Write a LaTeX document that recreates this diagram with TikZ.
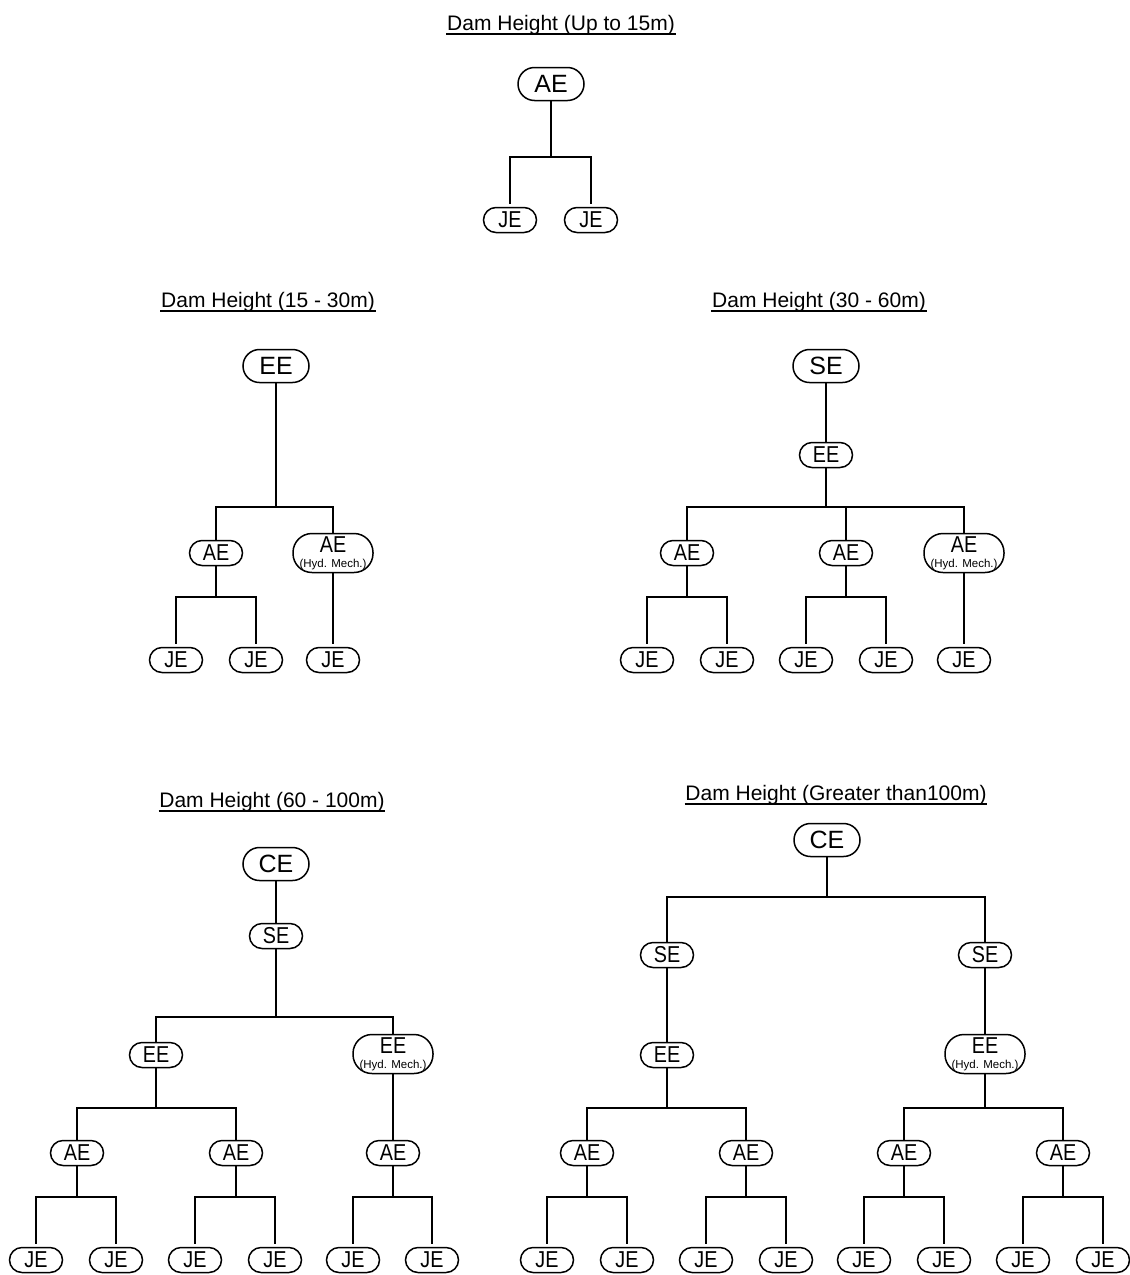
\documentclass[tikz,border=0pt]{standalone}
\usepackage{fontspec}
\setmainfont{Liberation Sans}
\newfontfamily\narrowfont[FakeStretch=0.86]{Liberation Sans}
\begin{document}
\begin{tikzpicture}[x=1pt,y=-1pt,
  every path/.style={line width=1.5pt},
  bignode/.style={draw, line width=1.5pt, rounded corners=16.5pt, minimum width=66pt, minimum height=33pt, inner sep=0pt, font=\fontsize{25}{25}\selectfont},
  smallnode/.style={draw, line width=1.5pt, rounded corners=12.5pt, minimum width=53pt, minimum height=25pt, inner sep=0pt, font=\narrowfont\fontsize{23}{23}\selectfont},
  hydnode/.style={draw, line width=1.5pt, rounded corners=19pt, minimum width=80pt, minimum height=39pt, inner sep=0pt, align=center, font=\narrowfont\fontsize{23}{15}\selectfont},
  titlenode/.style={anchor=base, inner sep=0pt, font=\fontsize{21}{21}\selectfont},
  link/.style={line width=1.5pt},
  leaflink/.style={line width=1.5pt, shorten >=3pt}]
\useasboundingbox (0,0) rectangle (1130,1275);
\newcommand\tbranch[4][link]{\draw[#1] (#2.south) -- (#2.south |- 0,#3) -| (#4.north);}
\newcommand\ttitle[4]{\node[titlenode] (#1) at (#2,#3) {#4};
  \draw[line width=1.3pt] ([yshift=-4pt]#1.base west) -- ([yshift=-4pt]#1.base east);}
\newcommand\hydtext[1]{#1\\{\rmfamily\fontsize{11.5}{15}\selectfont (Hyd. Mech.)}}

% ---------- Tree 1 ----------
\ttitle{ta}{561}{30}{Dam Height (Up to 15m)}
\node[bignode] (a0) at (551,84) {AE};
\node[smallnode] (a1) at (510,220) {JE};
\node[smallnode] (a2) at (591,220) {JE};
\tbranch[leaflink]{a0}{157}{a1}
\tbranch[leaflink]{a0}{157}{a2}

% ---------- Tree 2 ----------
\ttitle{tb}{268}{307}{Dam Height (15 - 30m)}
\node[bignode] (b0) at (276,366) {EE};
\node[smallnode] (b1) at (216,553) {AE};
\node[hydnode] (b2) at (333,553) {\hydtext{AE}};
\node[smallnode] (b11) at (176,660) {JE};
\node[smallnode] (b12) at (256,660) {JE};
\node[smallnode] (b21) at (333,660) {JE};
\tbranch{b0}{507}{b1}
\tbranch{b0}{507}{b2}
\tbranch[leaflink]{b1}{597}{b11}
\tbranch[leaflink]{b1}{597}{b12}
\draw[leaflink] (b2.south) -- (b21.north);

% ---------- Tree 3 ----------
\ttitle{tc}{819}{307}{Dam Height (30 - 60m)}
\node[bignode] (c0) at (826,366) {SE};
\node[smallnode] (c1) at (826,455) {EE};
\node[smallnode] (c11) at (687,553) {AE};
\node[smallnode] (c12) at (846,553) {AE};
\node[hydnode] (c13) at (964,553) {\hydtext{AE}};
\node[smallnode] (c111) at (647,660) {JE};
\node[smallnode] (c112) at (727,660) {JE};
\node[smallnode] (c121) at (806,660) {JE};
\node[smallnode] (c122) at (886,660) {JE};
\node[smallnode] (c131) at (964,660) {JE};
\draw[link] (c0.south) -- (c1.north);
\tbranch{c1}{507}{c11}
\tbranch{c1}{507}{c12}
\tbranch{c1}{507}{c13}
\tbranch[leaflink]{c11}{597}{c111}
\tbranch[leaflink]{c11}{597}{c112}
\tbranch[leaflink]{c12}{597}{c121}
\tbranch[leaflink]{c12}{597}{c122}
\draw[leaflink] (c13.south) -- (c131.north);

% ---------- Tree 4 ----------
\ttitle{td}{272}{807}{Dam Height (60 - 100m)}
\node[bignode] (d0) at (276,864) {CE};
\node[smallnode] (d1) at (276,936) {SE};
\node[smallnode] (d11) at (156,1055) {EE};
\node[hydnode] (d12) at (393,1054) {\hydtext{EE}};
\node[smallnode] (d111) at (77,1153) {AE};
\node[smallnode] (d112) at (236,1153) {AE};
\node[smallnode] (d121) at (393,1153) {AE};
\node[smallnode] (j1) at (36,1260) {JE};
\node[smallnode] (j2) at (116,1260) {JE};
\node[smallnode] (j3) at (195,1260) {JE};
\node[smallnode] (j4) at (275,1260) {JE};
\node[smallnode] (j5) at (353,1260) {JE};
\node[smallnode] (j6) at (432,1260) {JE};
\draw[link] (d0.south) -- (d1.north);
\tbranch{d1}{1017}{d11}
\tbranch{d1}{1017}{d12}
\tbranch{d11}{1108}{d111}
\tbranch{d11}{1108}{d112}
\draw[link] (d12.south) -- (d121.north);
\tbranch[leaflink]{d111}{1197}{j1}
\tbranch[leaflink]{d111}{1197}{j2}
\tbranch[leaflink]{d112}{1197}{j3}
\tbranch[leaflink]{d112}{1197}{j4}
\tbranch[leaflink]{d121}{1197}{j5}
\tbranch[leaflink]{d121}{1197}{j6}

% ---------- Tree 5 ----------
\ttitle{te}{836}{800}{Dam Height (Greater than100m)}
\node[bignode] (e0) at (827,840) {CE};
\node[smallnode] (e1) at (667,955) {SE};
\node[smallnode] (e2) at (985,955) {SE};
\node[smallnode] (e11) at (667,1055) {EE};
\node[hydnode] (e21) at (985,1054) {\hydtext{EE}};
\node[smallnode] (e111) at (587,1153) {AE};
\node[smallnode] (e112) at (746,1153) {AE};
\node[smallnode] (e211) at (904,1153) {AE};
\node[smallnode] (e212) at (1063,1153) {AE};
\node[smallnode] (k1) at (547,1260) {JE};
\node[smallnode] (k2) at (627,1260) {JE};
\node[smallnode] (k3) at (706,1260) {JE};
\node[smallnode] (k4) at (786,1260) {JE};
\node[smallnode] (k5) at (864,1260) {JE};
\node[smallnode] (k6) at (944,1260) {JE};
\node[smallnode] (k7) at (1023,1260) {JE};
\node[smallnode] (k8) at (1103,1260) {JE};
\tbranch{e0}{897}{e1}
\tbranch{e0}{897}{e2}
\draw[link] (e1.south) -- (e11.north);
\draw[link] (e2.south) -- (e21.north);
\tbranch{e11}{1108}{e111}
\tbranch{e11}{1108}{e112}
\tbranch{e21}{1108}{e211}
\tbranch{e21}{1108}{e212}
\tbranch[leaflink]{e111}{1197}{k1}
\tbranch[leaflink]{e111}{1197}{k2}
\tbranch[leaflink]{e112}{1197}{k3}
\tbranch[leaflink]{e112}{1197}{k4}
\tbranch[leaflink]{e211}{1197}{k5}
\tbranch[leaflink]{e211}{1197}{k6}
\tbranch[leaflink]{e212}{1197}{k7}
\tbranch[leaflink]{e212}{1197}{k8}
\end{tikzpicture}
\end{document}
